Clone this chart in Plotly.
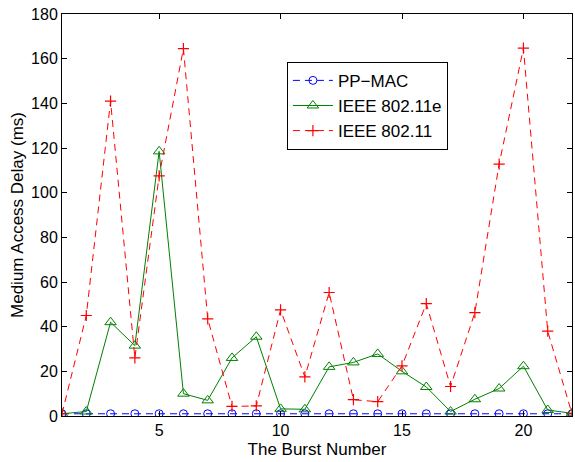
import plotly.graph_objects as go

bursts = list(range(1, 23))
pp_mac = [1.0] * 22
ieee_80211e = [1, 2, 42, 31.5, 118.5, 10, 7, 26, 35.5, 3.2, 3, 22, 24, 27.8, 20, 13, 2, 7.5, 12.3, 22.3, 2.7, 1.2]
ieee_80211 = [1, 45, 141, 26, 107.5, 164.5, 43.5, 4.3, 4.5, 47.5, 17.5, 55.3, 7.3, 6.4, 22.4, 50.3, 13.2, 46.3, 112.8, 164.7, 38, 1]
x_ticks = [5, 10, 15, 20]
y_ticks = list(range(0, 181, 20))

FONT = "Liberation Sans, Arial, Helvetica, sans-serif"

fig = go.Figure()
fig.add_trace(go.Scatter(
    x=bursts, y=pp_mac, name="PP\u2212MAC", mode="lines+markers",
    line=dict(color="#0000ff", width=1, dash="7px,5px"),
    marker=dict(symbol="circle-open", size=8, color="#0000ff", line=dict(width=1))))
fig.add_trace(go.Scatter(
    x=bursts, y=ieee_80211e, name="IEEE 802.11e", mode="lines+markers",
    line=dict(color="#008000", width=1),
    marker=dict(symbol="triangle-up-open", size=10, color="#008000", line=dict(width=1))))
fig.add_trace(go.Scatter(
    x=bursts, y=ieee_80211, name="IEEE 802.11", mode="lines+markers",
    line=dict(color="#ff0000", width=1, dash="7px,5px"),
    marker=dict(symbol="cross-thin-open", size=8, color="#ff0000", line=dict(width=1.2, color="#ff0000"))))

axis_common = dict(showgrid=False, zeroline=False, showline=True, linecolor="black",
                   linewidth=1, mirror="ticks", ticks="inside", ticklen=5,
                   tickcolor="black", tickfont=dict(family=FONT, size=16, color="black"))

fig.update_layout(
    width=575, height=462,
    margin=dict(l=62, r=3, t=14, b=46),
    paper_bgcolor="white", plot_bgcolor="white",
    font=dict(family=FONT, size=16, color="black"),
    xaxis=dict(range=[1, 22], tickvals=x_ticks,
               title=dict(text="The Burst Number", font=dict(family=FONT, size=17), standoff=4),
               **axis_common),
    yaxis=dict(range=[0, 180], tickvals=y_ticks,
               title=dict(text="Medium Access Delay (ms)", font=dict(family=FONT, size=17), standoff=3),
               **axis_common),
    legend=dict(x=0.441, y=0.881, xanchor="left", yanchor="top",
                bgcolor="white", bordercolor="black", borderwidth=1,
                font=dict(family=FONT, size=17), tracegroupgap=0, itemwidth=40),
    showlegend=True,
)

fig.write_html("out.html")
